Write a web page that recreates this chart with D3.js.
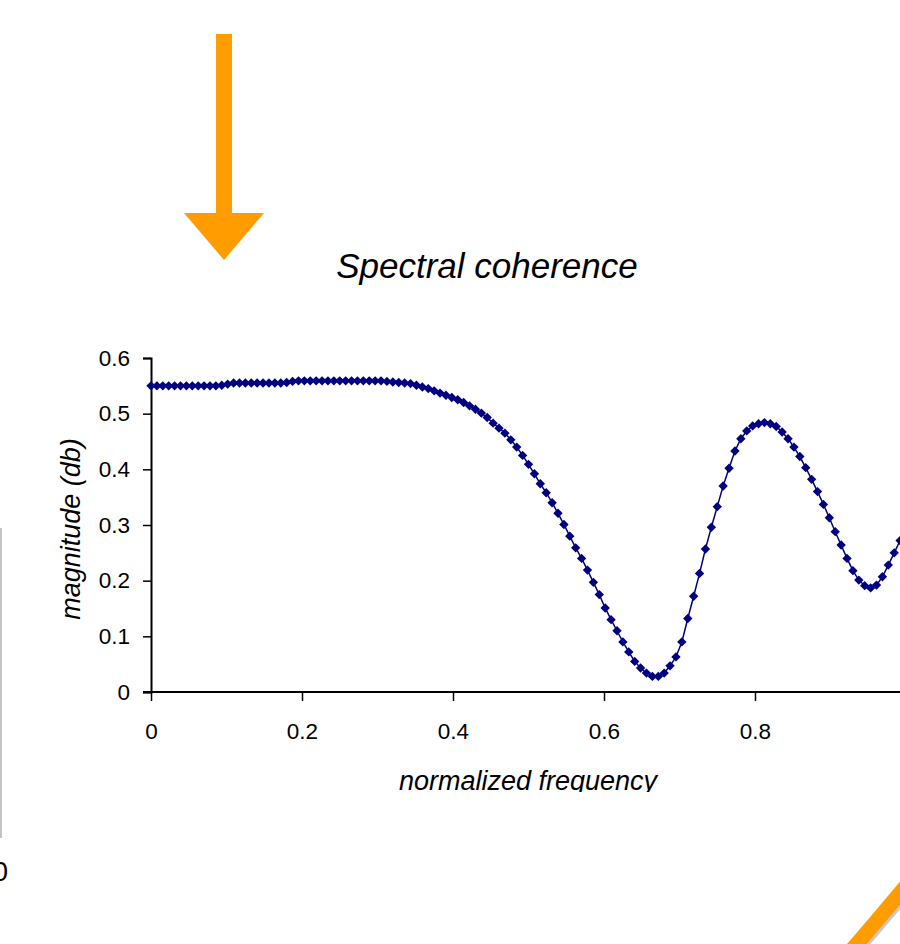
<!DOCTYPE html>
<html>
<head>
<meta charset="utf-8">
<script src="https://cdn.jsdelivr.net/npm/d3@7"></script>
<style>
  body { margin: 0; background: #fff; }
  text { font-family: "Liberation Sans", Arial, sans-serif; }
</style>
</head>
<body>
<script>
// sampled every 1/128 of the normalized frequency
var freqStep = 1 / 128;

var magnitude = [
  0.550, 0.550, 0.550, 0.550, 0.550, 0.550, 0.550, 0.550, 0.550, 0.550,
  0.550, 0.550, 0.551, 0.553, 0.555, 0.555, 0.555, 0.555, 0.555, 0.555,
  0.555, 0.555, 0.555, 0.556, 0.558, 0.559, 0.559, 0.559, 0.559, 0.559,
  0.559, 0.559, 0.559, 0.559, 0.559, 0.559, 0.559, 0.559, 0.559, 0.559,
  0.558, 0.557, 0.556, 0.555, 0.554, 0.551, 0.548, 0.545, 0.541, 0.537,
  0.533, 0.529, 0.525, 0.520, 0.514, 0.508, 0.501, 0.493, 0.483, 0.474,
  0.465, 0.453, 0.440, 0.425, 0.409, 0.392, 0.374, 0.358, 0.340, 0.321,
  0.301, 0.280, 0.259, 0.240, 0.219, 0.197, 0.175, 0.151, 0.130, 0.110,
  0.090, 0.072, 0.055, 0.043, 0.034, 0.028, 0.028, 0.034, 0.047, 0.063,
  0.090, 0.132, 0.172, 0.213, 0.257, 0.296, 0.333, 0.370, 0.402, 0.433,
  0.455, 0.469, 0.478, 0.482, 0.484, 0.482, 0.477, 0.467, 0.455, 0.440,
  0.423, 0.403, 0.382, 0.360, 0.337, 0.313, 0.288, 0.264, 0.240, 0.218,
  0.201, 0.191, 0.187, 0.192, 0.207, 0.228, 0.250, 0.272, 0.292
];

// the 1.0 tick falls just past the right edge of the picture
var xTicks = [0, 0.2, 0.4, 0.6, 0.8];
var yTicks = [0, 0.1, 0.2, 0.3, 0.4, 0.5, 0.6];

var data = magnitude.map(function(v, i) { return {f: i * freqStep, v: v}; });

var width = 900, height = 944;
var orange = "#ff9c00";
var navy = "#000080";

var svg = d3.select("body").append("svg")
    .attr("width", width)
    .attr("height", height);

// ---- slide decorations ----
svg.append("rect")
    .attr("x", 216).attr("y", 34)
    .attr("width", 16).attr("height", 180)
    .style("fill", orange);
svg.append("path")
    .attr("d", "M184,213 L264,213 L224,260 Z")
    .style("fill", orange);

svg.append("line")
    .attr("x1", 1).attr("x2", 1)
    .attr("y1", 528).attr("y2", 838)
    .style("stroke", "#b0b0b0")
    .style("stroke-width", 1.5);

svg.append("text")
    .attr("x", 8).attr("y", 881)
    .style("text-anchor", "end")
    .style("font-size", "28px")
    .text("0");

// orange arc in the corner, with a small grey shadow
svg.append("path")
    .attr("d", "M850,952 Q876,922 906,886")
    .attr("transform", "translate(2,2)")
    .style("fill", "none")
    .style("stroke", "#c8c8c8")
    .style("stroke-width", 15);
svg.append("path")
    .attr("d", "M850,952 Q876,922 906,886")
    .style("fill", "none")
    .style("stroke", orange)
    .style("stroke-width", 15);

// ---- chart ----
svg.append("defs").append("clipPath")
    .attr("id", "pic")
    .append("rect")
    .attr("x", 0).attr("y", 0)
    .attr("width", width).attr("height", 792);

var chart = svg.append("g").attr("clip-path", "url(#pic)");

var x = d3.scaleLinear().domain([0, 1]).range([151, 906]);
var y = d3.scaleLinear().domain([0, 0.6]).range([692, 358]);

var fmt = function(d) { return d === 0 ? "0" : d3.format(".1f")(d); };

var xAxis = d3.axisBottom(x)
    .tickValues(xTicks)
    .tickSize(9)
    .tickPadding(22)
    .tickFormat(fmt);

var yAxis = d3.axisLeft(y)
    .tickValues(yTicks)
    .tickSize(8)
    .tickPadding(13)
    .tickFormat(fmt);

chart.append("text")
    .attr("x", 487).attr("y", 278)
    .style("text-anchor", "middle")
    .style("font-size", "35px")
    .style("font-style", "italic")
    .text("Spectral coherence");

var gx = chart.append("g")
    .attr("class", "x axis")
    .attr("transform", "translate(0," + y(0) + ")")
    .call(xAxis);

var gy = chart.append("g")
    .attr("class", "y axis")
    .attr("transform", "translate(" + x(0) + ",0)")
    .call(yAxis);

[gx, gy].forEach(function(g) {
  g.select(".domain").style("stroke", "#000").style("stroke-width", 2);
  g.selectAll(".tick line").style("stroke", "#000").style("stroke-width", 1.5);
  g.selectAll(".tick text")
    .style("font-size", "22.5px")
    .style("fill", "#000")
    .style("font-family", "'Liberation Sans', Arial, sans-serif");
});
gx.select(".domain").attr("d", "M" + (x(0) - 8) + ",0H" + x(1));

chart.append("text")
    .attr("x", 528).attr("y", 790)
    .style("text-anchor", "middle")
    .style("font-size", "27px")
    .style("font-style", "italic")
    .text("normalized frequency");

chart.append("text")
    .attr("transform", "translate(80,529) rotate(-90)")
    .style("text-anchor", "middle")
    .style("font-size", "27px")
    .style("font-style", "italic")
    .text("magnitude (db)");

var line = d3.line()
    .x(function(d) { return x(d.f); })
    .y(function(d) { return y(d.v); });

chart.append("path")
    .datum(data)
    .attr("d", line)
    .style("fill", "none")
    .style("stroke", navy)
    .style("stroke-width", 1.5);

var marker = d3.symbol().type(d3.symbolSquare).size(44);

chart.selectAll(".pt")
    .data(data)
    .enter().append("path")
    .attr("class", "pt")
    .attr("d", marker)
    .attr("transform", function(d) {
      return "translate(" + x(d.f) + "," + y(d.v) + ") rotate(45)";
    })
    .style("fill", navy);
</script>
</body>
</html>
